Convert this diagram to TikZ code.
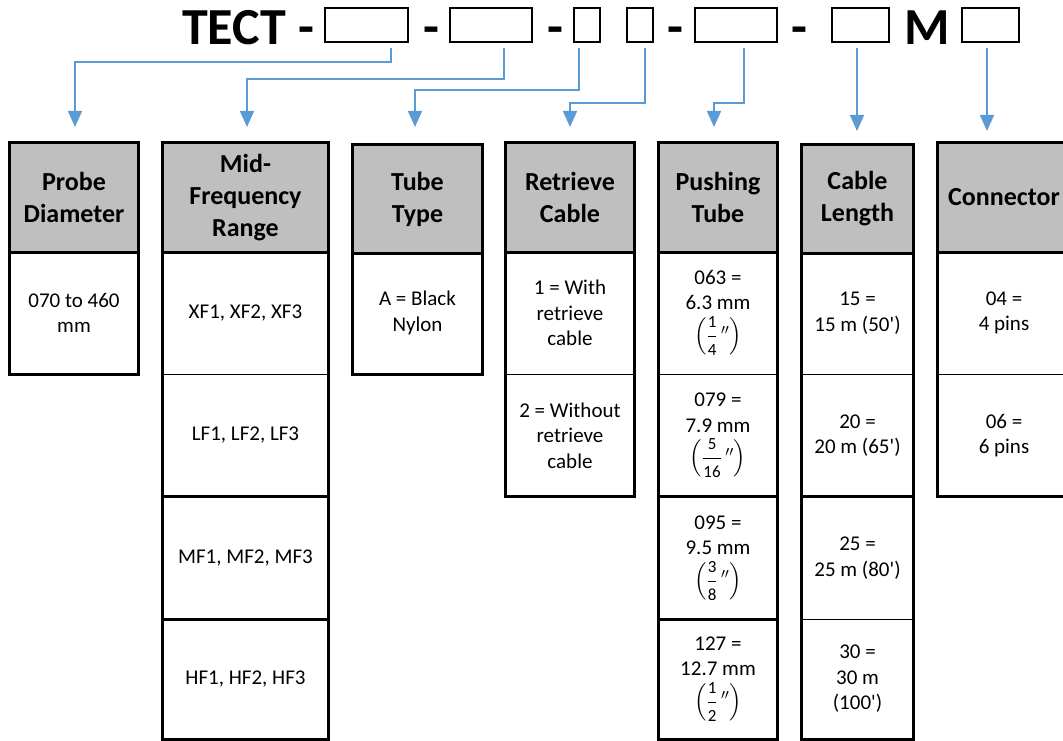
\documentclass[tikz,border=0pt]{standalone}
\usepackage{amsmath}
\usepackage{fontspec}
\setmainfont{Carlito}[Ligatures=TeXOff]
\usetikzlibrary{arrows.meta}
\definecolor{arrowblue}{HTML}{5B9BD5}
\definecolor{hdrgray}{HTML}{BFBFBF}
\newcommand{\frcdigit}[1]{\text{\fontsize{17}{17}\selectfont #1}}
\newcommand{\frc}[2]{$\left(\dfrac{\frcdigit{#1}}{\frcdigit{#2}}\,{}''\right)$}
\begin{document}
\begin{tikzpicture}[x=1pt,y=-1pt,
  tbox/.style={draw,line width=2.5pt,minimum height=34pt,inner sep=0pt},
  ttext/.style={font=\fontsize{52}{60}\selectfont\bfseries,inner sep=0pt,anchor=base},
  conn/.style={draw=arrowblue,line width=1.5pt,-{Triangle[width=14pt,length=16pt]}},
  hdr/.style={fill=hdrgray,inner sep=0pt,align=center,minimum height=109pt,font=\fontsize{26}{32}\selectfont\bfseries},
  cell/.style={align=center,inner sep=0pt,minimum height=122pt,font=\fontsize{21}{25.6}\selectfont},
  heavy/.style={line width=2.8pt},
  light/.style={line width=1.2pt}
]
\useasboundingbox (0,0) rectangle (1063,741);
\clip (0,0) rectangle (1063,741);

% title
\node[ttext,anchor=base west] (tect) at (182,45) {TECT};
\node[ttext] (d1) at (306.5,45) {-};
\node[ttext] (d2) at (431,45) {-};
\node[ttext] (d3) at (555,45) {-};
\node[ttext] (d4) at (675.5,45) {-};
\node[ttext] (d5) at (799.5,45) {-};
\node[ttext] (mm) at (927.5,45) {M};
\node[tbox,minimum width=83pt] (b1) at (366.5,25) {};
\node[tbox,minimum width=82pt] (b2) at (491,25) {};
\node[tbox,minimum width=26pt] (b3) at (587,25) {};
\node[tbox,minimum width=26pt] (b4) at (640,25) {};
\node[tbox,minimum width=82pt] (b5) at (736,25) {};
\node[tbox,minimum width=57pt] (b6) at (860.5,25) {};
\node[tbox,minimum width=57pt] (b7) at (990.5,25) {};

% connectors
\coordinate (s1) at (391,48);  \coordinate (e1) at (75,127);
\coordinate (s2) at (504,48);  \coordinate (e2) at (247,127);
\coordinate (s3) at (579,48);  \coordinate (e3) at (415,127);
\coordinate (s4) at (645,48);  \coordinate (e4) at (570,127);
\coordinate (s5) at (744,48);  \coordinate (e5) at (714,127);
\coordinate (s6) at (857,48);  \coordinate (e6) at (857,131);
\coordinate (s7) at (987,48);  \coordinate (e7) at (987,131);
\draw[conn] (s1) -- ++(0,14) -| (e1);
\draw[conn] (s2) -- ++(0,31) -| (e2);
\draw[conn] (s3) -- ++(0,42) -| (e3);
\draw[conn] (s4) -- ++(0,55) -| (e4);
\draw[conn] (s5) -- ++(0,55) -| (e5);
\draw[conn] (s6) -- (e6);
\draw[conn] (s7) -- (e7);

% column 1
\node[hdr,minimum width=128pt] (h1) at (74,197.5) {Probe\\Diameter};
\node[cell,minimum width=128pt] (c11) at (74,313) {070 to 460\\mm};
\draw[heavy] (h1.south west) -- (h1.south east);
\draw[heavy] (h1.north west) rectangle (c11.south east);

% column 2
\node[hdr,minimum width=165pt] (h2) at (245.5,197.5) {Mid-\\Frequency\\Range};
\node[cell,minimum width=165pt] (c21) at (245.5,313) {XF1, XF2, XF3};
\node[cell,minimum width=165pt] (c22) at (245.5,435.5) {LF1, LF2, LF3};
\node[cell,minimum width=165pt] (c23) at (245.5,558) {MF1, MF2, MF3};
\node[cell,minimum width=165pt,minimum height=120pt] (c24) at (245.5,679) {HF1, HF2, HF3};
\draw[light] (c21.south west) -- (c21.south east);
\draw[heavy] (c22.south west) -- (c22.south east);
\draw[heavy] (c23.south west) -- (c23.south east);
\draw[heavy] (h2.south west) -- (h2.south east);
\draw[heavy] (h2.north west) rectangle (c24.south east);

% column 3
\node[hdr,minimum width=129pt] (h3) at (417.5,199) {Tube\\Type};
\node[cell,minimum width=129pt] (c31) at (417.5,313) {A = Black\\Nylon};
\draw[heavy] (h3.south west) -- (h3.south east);
\draw[heavy] (h3.north west) rectangle (c31.south east);

% column 4
\node[hdr,minimum width=128pt] (h4) at (570,197.5) {Retrieve\\Cable};
\node[cell,minimum width=128pt] (c41) at (570,313) {1 = With\\retrieve\\cable};
\node[cell,minimum width=128pt] (c42) at (570,435.5) {2 = Without\\retrieve\\cable};
\draw[light] (c41.south west) -- (c41.south east);
\draw[heavy] (h4.south west) -- (h4.south east);
\draw[heavy] (h4.north west) rectangle (c42.south east);

% column 5
\node[hdr,minimum width=118pt] (h5) at (718,197.5) {Pushing\\Tube};
\node[cell,minimum width=118pt] (c51) at (718,313) {063 =\\6.3 mm\\[6pt]\frc{1}{4}};
\node[cell,minimum width=118pt] (c52) at (718,435.5) {079 =\\7.9 mm\\[6pt]\frc{5}{16}};
\node[cell,minimum width=118pt] (c53) at (718,558) {095 =\\9.5 mm\\[6pt]\frc{3}{8}};
\node[cell,minimum width=118pt,minimum height=120pt] (c54) at (718,679) {127 =\\12.7 mm\\[6pt]\frc{1}{2}};
\draw[light] (c51.south west) -- (c51.south east);
\draw[heavy] (c52.south west) -- (c52.south east);
\draw[heavy] (c53.south west) -- (c53.south east);
\draw[heavy] (h5.south west) -- (h5.south east);
\draw[heavy] (h5.north west) rectangle (c54.south east);

% column 6
\node[hdr,minimum width=111pt] (h6) at (857.5,199) {Cable\\Length};
\node[cell,minimum width=111pt] (c61) at (857.5,313) {15 =\\15 m (50')};
\node[cell,minimum width=111pt] (c62) at (857.5,435.5) {20 =\\20 m (65')};
\node[cell,minimum width=111pt] (c63) at (857.5,558) {25 =\\25 m (80')};
\node[cell,minimum width=111pt,minimum height=120pt] (c64) at (857.5,679) {30 =\\30 m\\(100')};
\draw[light] (c61.south west) -- (c61.south east);
\draw[heavy] (c62.south west) -- (c62.south east);
\draw[light] (c63.south west) -- (c63.south east);
\draw[heavy] (h6.south west) -- (h6.south east);
\draw[heavy] (h6.north west) rectangle (c64.south east);

% column 7
\node[hdr,minimum width=132pt] (h7) at (1004,197.5) {Connector};
\node[cell,minimum width=132pt] (c71) at (1004,313) {04 =\\4 pins};
\node[cell,minimum width=132pt] (c72) at (1004,435.5) {06 =\\6 pins};
\draw[light] (c71.south west) -- (c71.south east);
\draw[heavy] (h7.south west) -- (h7.south east);
\draw[heavy] (h7.north west) rectangle (c72.south east);
\end{tikzpicture}
\end{document}
